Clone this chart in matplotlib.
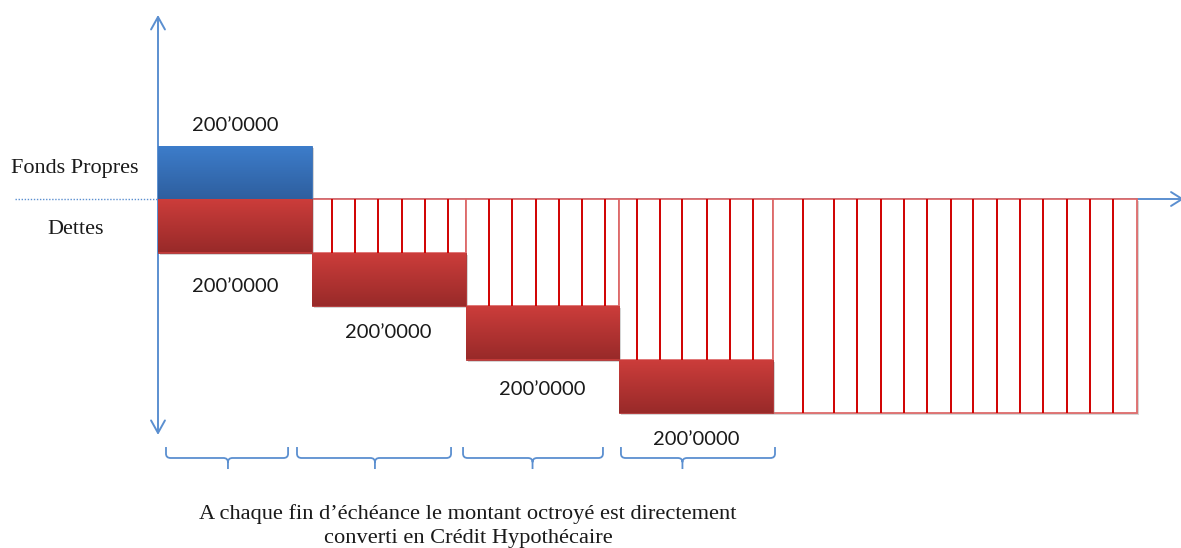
import numpy as np
import matplotlib
matplotlib.use("Agg")
import matplotlib.pyplot as plt
from matplotlib.path import Path
from matplotlib.patches import PathPatch, FancyArrowPatch
import matplotlib.patheffects as pe

# Data (x in periods, y in units of 200'000)
periods = [0, 1, 2, 3]
equity = 1.0
debt = [1.0, 1.0, 1.0, 1.0]
label_text = "200\u20190000"
label_gap = [0.64, 0.50, 0.57, 0.50]      # distance of the label under each red block
equity_label_gap = 0.37
last_width = 2.367                         # width of the last (converted) column
# payment lines (x positions) in each white column
pay_lines = [
    [1.13, 1.28, 1.43, 1.585, 1.735, 1.885],
    [2.15, 2.305, 2.46, 2.61, 2.76, 2.91],
    [3.115, 3.265, 3.41, 3.57, 3.72, 3.87],
    [4.195, 4.397, 4.546, 4.702, 4.852, 5.0, 5.158, 5.30, 5.457,
     5.607, 5.756, 5.912, 6.062, 6.211],
]
brace_start = [0.052, 0.904, 1.984, 3.011]
brace_end = [0.846, 1.906, 2.894, 4.013]
brace_mid = [0.455, 1.411, 2.436, 3.411]
caption = ("A chaque fin d\u2019\u00e9ch\u00e9ance le montant octroy\u00e9 est directement\n"
           "converti en Cr\u00e9dit Hypoth\u00e9caire")

AXIS_BLUE = "#5b8fd0"
sans = ["Lato", "DejaVu Sans"]
serif = ["Liberation Serif", "DejaVu Serif"]

fig = plt.figure(figsize=(11.81, 5.48), dpi=100)
ax = fig.add_axes([0, 0, 1, 1])
ax.set_xlim(-158 / 153.75, 1023 / 153.75)
ax.set_ylim(-349 / 53.5, 199 / 53.5)
ax.axis("off")


def gradient_fill(patch, top, bottom):
    x0, y0 = patch.get_x(), patch.get_y()
    w, h = patch.get_width(), patch.get_height()
    c1 = np.array(matplotlib.colors.to_rgb(top))
    c2 = np.array(matplotlib.colors.to_rgb(bottom))
    t = np.linspace(0, 1, 64)[:, None]
    img = (c1 * (1 - t) + c2 * t)[:, None, :]
    im = ax.imshow(img, extent=[x0, x0 + w, y0, y0 + h], aspect="auto",
                   origin="upper", zorder=patch.get_zorder() + 0.1)
    im.set_clip_path(patch)


shadow = [pe.SimplePatchShadow(offset=(1.5, -1.5), shadow_rgbFace="#888888", alpha=0.35),
          pe.Normal()]

# axes
ax.plot([-143 / 153.75, 0], [0, 0], color=AXIS_BLUE, lw=1.0, ls=(0, (1, 1.2)), zorder=1)
ax.add_patch(FancyArrowPatch((0, 0), (1026 / 153.75, 0), arrowstyle="->,head_length=8,head_width=5",
                             color=AXIS_BLUE, lw=1.4, zorder=1, shrinkA=0, shrinkB=0))
ax.add_patch(FancyArrowPatch((0, -4.41), (0, 3.44), arrowstyle="<->,head_length=9,head_width=5",
                             color=AXIS_BLUE, lw=1.4, zorder=1, shrinkA=0, shrinkB=0))

# white columns with payment lines
for k, lines in enumerate(pay_lines):
    x0 = k + 1
    w = 1.0 if k < 3 else last_width
    depth = sum(debt[:k + 1])
    ax.bar(x0, depth, width=w, bottom=-depth, align="edge", facecolor="white",
           edgecolor="#dd6a6a", lw=1.3, zorder=2, path_effects=shadow)
    ax.vlines(lines, -depth, 0, color="#d00000", lw=1.4, zorder=3)

# equity block
b = ax.bar(0, equity, width=1, bottom=0, align="edge", facecolor="#3a78c5",
           edgecolor="#3a70b5", lw=0.6, zorder=4, path_effects=shadow)[0]
gradient_fill(b, "#3d7dcb", "#2e5f9f")
ax.text(0.5, equity + equity_label_gap, label_text, ha="center", va="center",
        fontsize=14.5, family=sans, color="#1a1a1a")

# debt blocks
for k, d in zip(periods, debt):
    top = -sum(debt[:k])
    b = ax.bar(k, d, width=1, bottom=top - d, align="edge", facecolor="#c23a38",
               edgecolor="#b03535", lw=0.6, zorder=4, path_effects=shadow)[0]
    gradient_fill(b, "#cd3d3b", "#982a29")
    ax.text(k + 0.5, top - d - label_gap[k], label_text, ha="center", va="center",
            fontsize=14.5, family=sans, color="#1a1a1a")

# braces
y_top, y_mid, y_tick = -4.636, -4.841, -5.047
r = 0.03
for s, e, m in zip(brace_start, brace_end, brace_mid):
    verts = [(s, y_top), (s, y_mid + 0.08), (s, y_mid), (s + r, y_mid),
             (m - r, y_mid), (m, y_mid), (m, y_mid - 0.08), (m, y_tick),
             (m, y_mid - 0.08), (m, y_mid), (m + r, y_mid),
             (e - r, y_mid), (e, y_mid), (e, y_mid + 0.08), (e, y_top)]
    codes = [Path.MOVETO, Path.LINETO, Path.CURVE3, Path.CURVE3,
             Path.LINETO, Path.CURVE3, Path.CURVE3, Path.LINETO,
             Path.MOVETO, Path.CURVE3, Path.CURVE3,
             Path.LINETO, Path.CURVE3, Path.CURVE3, Path.LINETO]
    ax.add_patch(PathPatch(Path(verts, codes), fill=False, edgecolor=AXIS_BLUE, lw=1.3, zorder=2))

# side labels and caption
ax.text(-83 / 153.75, 31 / 53.5, "Fonds Propres", ha="center", va="center",
        fontsize=16, family=serif, color="#1a1a1a")
ax.text(-82 / 153.75, -31 / 53.5, "Dettes", ha="center", va="center",
        fontsize=16, family=serif, color="#1a1a1a")
ax.text(310 / 153.75, -327 / 53.5, caption, ha="center", va="center",
        fontsize=16.1, family=serif, color="#1a1a1a", linespacing=1.3)

fig.savefig("out.png", dpi=100)
